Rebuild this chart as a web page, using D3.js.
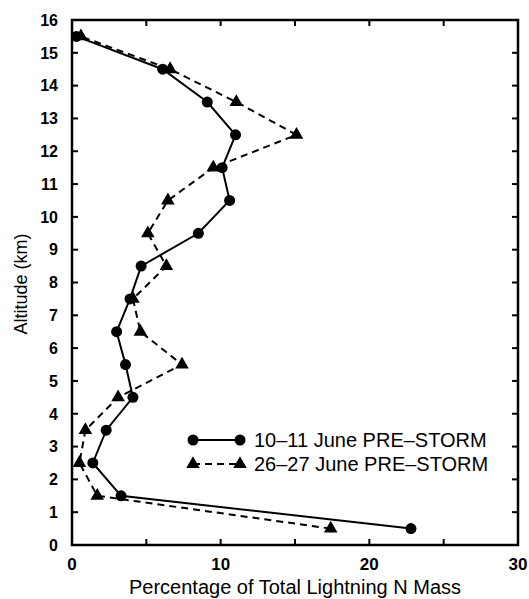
<!DOCTYPE html>
<html><head><meta charset="utf-8">
<script src="https://cdn.jsdelivr.net/npm/d3@7"></script>
<style>body{margin:0;background:#fff}svg{display:block}text{font-family:"Liberation Sans",Arial,Helvetica,sans-serif;fill:#000}</style>
</head><body>
<script>
const altitudes = [0.5,1.5,2.5,3.5,4.5,5.5,6.5,7.5,8.5,9.5,10.5,11.5,12.5,13.5,14.5,15.5];
const june10 = [22.8,3.3,1.4,2.3,4.1,3.6,3.0,3.9,4.65,8.5,10.6,10.1,11.0,9.1,6.1,0.3];
const june26 = [17.4,1.7,0.5,0.9,3.1,7.4,4.6,4.1,6.35,5.1,6.45,9.5,15.1,11.05,6.6,0.6];
const seriesNames = ["10\u201311 June PRE\u2013STORM","26\u201327 June PRE\u2013STORM"];
const xTicks = [0,10,20,30];
const xMinor = [5,10,15,20,25];
const yTicks = d3.range(0,17);

const W=529,H=599;
const svg=d3.select("body").append("svg").attr("width",W).attr("height",H);
const x=d3.scaleLinear().domain([0,30]).range([72,518]);
const y=d3.scaleLinear().domain([0,16]).range([545,20]);

// frame
svg.append("rect").attr("x",x(0)).attr("y",y(16)).attr("width",x(30)-x(0)).attr("height",y(0)-y(16))
  .attr("fill","none").attr("stroke","#000").attr("stroke-width",2.5);

// inward ticks
svg.selectAll(".bt").data(xMinor).enter().append("line")
  .attr("x1",d=>x(d)).attr("x2",d=>x(d)).attr("y1",y(0)).attr("y2",y(0)-6).attr("stroke","#000").attr("stroke-width",2);
svg.selectAll(".tt").data(xMinor).enter().append("line")
  .attr("x1",d=>x(d)).attr("x2",d=>x(d)).attr("y1",y(16)).attr("y2",y(16)+6).attr("stroke","#000").attr("stroke-width",2);
svg.selectAll(".rt").data(yTicks.slice(1,16)).enter().append("line")
  .attr("x1",x(30)).attr("x2",x(30)-6).attr("y1",d=>y(d)).attr("y2",d=>y(d)).attr("stroke","#000").attr("stroke-width",2);
svg.selectAll(".lt0").data(yTicks.slice(1,16)).enter().append("line")
  .attr("x1",x(0)).attr("x2",x(0)+6).attr("y1",d=>y(d)).attr("y2",d=>y(d)).attr("stroke","#000").attr("stroke-width",2);

// tick labels
svg.selectAll(".yl").data(yTicks).enter().append("text")
  .attr("x",58).attr("y",d=>y(d)).attr("dy","0.36em").attr("text-anchor","end")
  .attr("font-size",16).attr("font-weight","bold").text(d=>d);
svg.selectAll(".xl").data(xTicks).enter().append("text")
  .attr("x",d=>x(d)).attr("y",570).attr("text-anchor","middle")
  .attr("font-size",17).attr("font-weight","bold").text(d=>d);

// titles
svg.append("text").attr("x",295).attr("y",594).attr("text-anchor","middle")
  .attr("font-size",20).text("Percentage of Total Lightning N Mass");
svg.append("text").attr("transform",`translate(27,284) rotate(-90)`).attr("text-anchor","middle")
  .attr("font-size",18).text("Altitude (km)");

const d1=altitudes.map((a,i)=>({a,v:june10[i]}));
const d2=altitudes.map((a,i)=>({a,v:june26[i]}));
const line=d3.line().x(d=>x(d.v)).y(d=>y(d.a));
svg.append("path").datum(d2).attr("d",line).attr("fill","none").attr("stroke","#000").attr("stroke-width",2).attr("stroke-dasharray","7,5");
svg.append("path").datum(d1).attr("d",line).attr("fill","none").attr("stroke","#000").attr("stroke-width",2);
const tri=d3.symbol().type(d3.symbolTriangle).size(80);
svg.selectAll(".tri").data(d2).enter().append("path").attr("d",tri)
  .attr("transform",d=>`translate(${x(d.v)},${y(d.a)})`).attr("fill","#000");
svg.selectAll(".cir").data(d1).enter().append("circle")
  .attr("cx",d=>x(d.v)).attr("cy",d=>y(d.a)).attr("r",5.5).attr("fill","#000");

// legend
const lg=svg.append("g");
lg.append("line").attr("x1",193).attr("x2",240).attr("y1",440).attr("y2",440).attr("stroke","#000").attr("stroke-width",2);
lg.selectAll(".lc").data([193,240]).enter().append("circle").attr("cx",d=>d).attr("cy",440).attr("r",5.5).attr("fill","#000");
lg.append("line").attr("x1",193).attr("x2",240).attr("y1",464).attr("y2",464).attr("stroke","#000").attr("stroke-width",2).attr("stroke-dasharray","7,5");
lg.selectAll(".lt").data([193,240]).enter().append("path").attr("d",tri).attr("transform",d=>`translate(${d},464)`).attr("fill","#000");
lg.selectAll(".ltx").data(seriesNames).enter().append("text").attr("x",254).attr("y",(d,i)=>440+i*24).attr("dy","0.36em")
  .attr("font-size",20).text(d=>d);
</script>
</body></html>
